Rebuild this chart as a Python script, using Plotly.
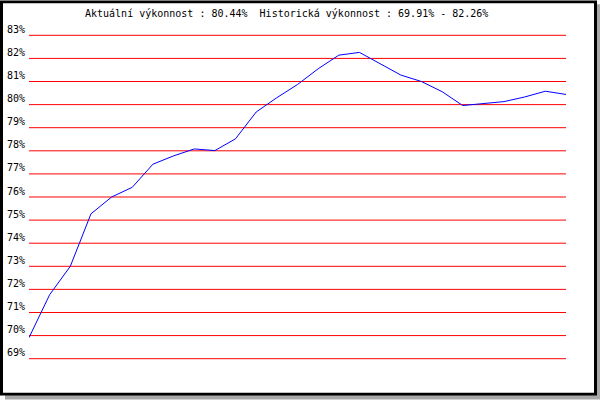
import plotly.graph_objects as go

# data
values = [69.91, 71.77, 73.00, 75.27, 76.00, 76.42, 77.42, 77.78, 78.08, 78.01,
          78.52, 79.68, 80.30, 80.87, 81.55, 82.14, 82.26, 81.78, 81.28, 81.00,
          80.56, 79.96, 80.05, 80.13, 80.33, 80.58, 80.44]
steps = list(range(len(values)))
tick_values = list(range(69, 84))
tick_labels = [f"{v}%" for v in tick_values]
title_text = "Aktuální výkonnost : 80.44%\u00a0 Historická výkonnost : 69.91% - 82.26%"

W, H = 600, 400
L, R, T, B = 29, 566, 35, 359  # plot area in pixels (for 69..83)
ymin, ymax = 69, 83
pad = 0.1
ppu = (B - T) / (ymax - ymin)
T2 = T - pad * ppu
B2 = B + pad * ppu


def px(X):
    return (X - L) / (R - L)


def py(Y):
    return (B2 - Y) / (B2 - T2)


fig = go.Figure()
fig.add_trace(go.Scatter(x=steps, y=values, mode="lines",
                         line=dict(color="#0000ff", width=1), hoverinfo="skip"))

shapes = [
    dict(type="rect", xref="paper", yref="paper", x0=px(5), x1=px(600), y0=py(4), y1=py(400),
         fillcolor="#a8a8a8", line=dict(width=0), layer="below"),
    dict(type="rect", xref="paper", yref="paper", x0=px(0), x1=px(597), y0=py(0), y1=py(396),
         fillcolor="#000000", line=dict(width=0), layer="below"),
    dict(type="rect", xref="paper", yref="paper", x0=px(3), x1=px(594), y0=py(3), y1=py(393),
         fillcolor="#ffffff", line=dict(width=0), layer="below"),
]
for v in tick_values:
    shapes.append(dict(type="line", xref="paper", yref="y", x0=0, x1=1, y0=v, y1=v,
                       line=dict(color="#ff0000", width=1), layer="below"))

annotations = [dict(text=title_text, xref="paper", yref="paper", x=px(83), y=py(13),
                    xanchor="left", yanchor="middle", showarrow=False,
                    font=dict(family="DejaVu Sans Mono", size=10, color="#000000"))]
for v, lab in zip(tick_values, tick_labels):
    annotations.append(dict(text=lab, xref="paper", yref="y", x=px(26.5), y=v,
                            xanchor="right", yanchor="middle", yshift=6, showarrow=False,
                            font=dict(family="DejaVu Sans Mono", size=10, color="#000000")))

fig.update_layout(
    width=W, height=H,
    margin=dict(l=L, r=W - R, t=T2, b=H - B2, pad=0),
    paper_bgcolor="#ffffff", plot_bgcolor="rgba(0,0,0,0)",
    showlegend=False,
    xaxis=dict(range=[0, len(values) - 1], showgrid=False, zeroline=False,
               showticklabels=False, showline=False, ticks=""),
    yaxis=dict(range=[ymin - pad, ymax + pad], showgrid=False, zeroline=False,
               showticklabels=False, showline=False, ticks=""),
    shapes=shapes,
    annotations=annotations,
)

fig.write_html("out.html", config={"displayModeBar": False},
               post_script="document.body.style.margin='0';document.body.style.overflow='hidden';")
